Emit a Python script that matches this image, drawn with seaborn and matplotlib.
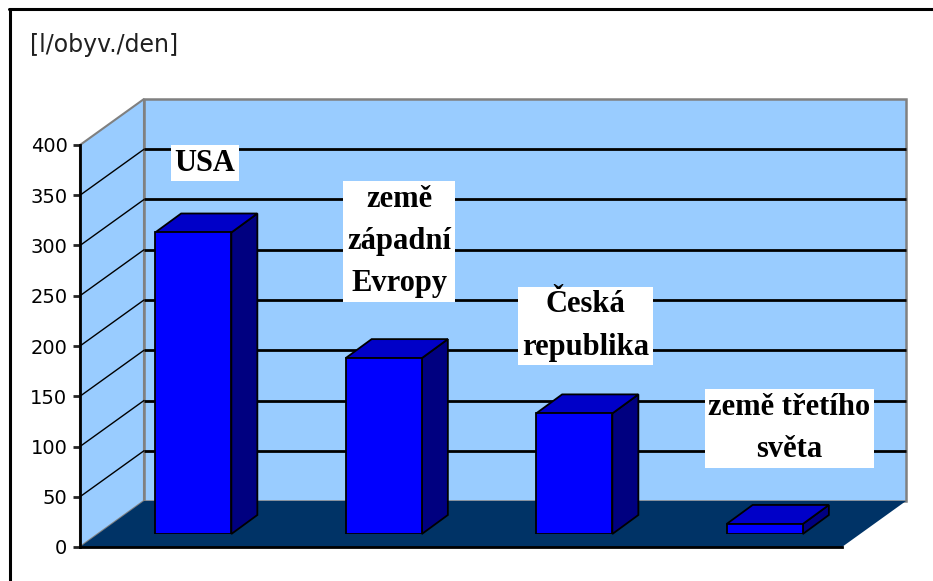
import matplotlib
matplotlib.use("Agg")
import matplotlib.pyplot as plt
from matplotlib.patches import Polygon
import numpy as np
import pandas as pd
import seaborn as sns

# ---- data ----
categories = ["USA", "země západní Evropy", "Česká republika", "země třetího světa"]
values = [300, 175, 120, 10]
bar_labels = ["USA", "země\nzápadní\nEvropy", "Česká\nrepublika", "země třetího\nsvěta"]
label_x = [0.06, 1.08, 2.06, 3.13]
label_y = [369, 291, 207, 105]
y_ticks = [0, 50, 100, 150, 200, 250, 300, 350, 400]
y_unit = "[l/obyv./den]"

sns.set_style("white")
plt.rcParams["font.family"] = ["DejaVu Sans"]

W, H = 933, 581
fig = plt.figure(figsize=(W / 100, H / 100), dpi=100)
fig.patch.set_facecolor("white")

WALL = "#99CCFF"
FLOOR = "#003366"
FRONT = "#0000FF"
TOP = "#0000C8"
SIDE = "#000080"
DEPTH = np.array([64.0, 46.0])      # chart depth (px)
BAR_OFF = (18, 13)                  # bar plane offset (px)
BAR_DEPTH = np.array([26.0, 19.0])  # bar thickness (px)

# background axes: data coords == pixels (y up)
bg = fig.add_axes([0, 0, 1, 1], zorder=0)
bg.set_xlim(0, W)
bg.set_ylim(0, H)
bg.axis("off")

# front value axis
axf = fig.add_axes([80 / W, (H - 547) / H, 762 / W, 402 / H], zorder=1)
axf.set_xlim(0, 1)
axf.set_ylim(0, 400)
axf.patch.set_visible(False)
axf.set_yticks(y_ticks)
axf.set_yticklabels([str(t) for t in y_ticks], fontsize=14, color="black")
axf.set_xticks([])
for s in ["top", "right"]:
    axf.spines[s].set_visible(False)
for s in ["left", "bottom"]:
    axf.spines[s].set_color("black")
    axf.spines[s].set_linewidth(2)
axf.tick_params(axis="y", direction="out", length=5, width=2, pad=4, left=True)

# bar plane axes
ax = fig.add_axes([(80 + BAR_OFF[0]) / W, (H - 547 + BAR_OFF[1]) / H, 762 / W, 402 / H], zorder=2)
df = pd.DataFrame({"kategorie": categories, "hodnota": values})
sns.barplot(data=df, x="kategorie", y="hodnota", ax=ax, color=FRONT, saturation=1,
            width=0.4, edgecolor="black", linewidth=1.3)
ax.set_xlim(-0.5, 3.5)
ax.set_ylim(0, 400)
ax.patch.set_visible(False)
ax.axis("off")

# walls & floor computed from the front axis
c = axf.transAxes.transform([(0, 0), (1, 0), (0, 1), (1, 1)])
bl, br, tl, tr = c
side = Polygon([bl, tl, tl + DEPTH, bl + DEPTH], closed=True, facecolor=WALL,
               edgecolor="#808080", lw=1.5, zorder=1)
back = Polygon([bl + DEPTH, br + DEPTH, tr + DEPTH, tl + DEPTH], closed=True,
               facecolor=WALL, edgecolor="#808080", lw=1.8, zorder=1)
floor = Polygon([bl, br, br + DEPTH, bl + DEPTH], closed=True, facecolor=FLOOR,
                edgecolor="none", zorder=2)
bg.add_patch(back)
bg.add_patch(side)
bg.add_patch(floor)
for v in y_ticks[1:-1]:
    p = axf.transData.transform((0, v))
    q = axf.transData.transform((1, v))
    bg.plot([p[0] + DEPTH[0], q[0] + DEPTH[0]], [p[1] + DEPTH[1]] * 2, color="black",
            lw=2, zorder=3, solid_capstyle="butt")
    bg.plot([p[0], p[0] + DEPTH[0]], [p[1], p[1] + DEPTH[1]], color="black", lw=1,
            zorder=3)

# 3D faces of the bars derived from seaborn patches
for patch in ax.patches:
    x0, y0 = patch.get_x(), patch.get_y()
    w, h = patch.get_width(), patch.get_height()
    pbl, pbr, ptl, ptr = ax.transData.transform([(x0, y0), (x0 + w, y0), (x0, y0 + h), (x0 + w, y0 + h)])
    topf = Polygon([ptl, ptr, ptr + BAR_DEPTH, ptl + BAR_DEPTH], closed=True,
                   facecolor=TOP, edgecolor="black", lw=1.3, zorder=5)
    sidef = Polygon([pbr, ptr, ptr + BAR_DEPTH, pbr + BAR_DEPTH], closed=True,
                    facecolor=SIDE, edgecolor="black", lw=1.3, zorder=5)
    bg.add_patch(sidef)
    bg.add_patch(topf)

# category labels above the bars
for lx, ly, txt in zip(label_x, label_y, bar_labels):
    ax.text(lx, ly, txt, ha="center", va="center", fontsize=22, fontweight="bold",
            family=["Liberation Serif"], linespacing=1.6, color="black", zorder=10,
            bbox=dict(boxstyle="square,pad=0.12", facecolor="white", edgecolor="none"))

# unit label
fig.text(30 / W, 1 - 33 / H, y_unit, ha="left", va="top", fontsize=17, color="#202020")

# frame (left & top border)
bg.plot([10, 10], [0, H - 9], color="black", lw=2.2, zorder=10)
bg.plot([9, W], [H - 9, H - 9], color="black", lw=2.2, zorder=10)

fig.savefig("out.png", dpi=100)
